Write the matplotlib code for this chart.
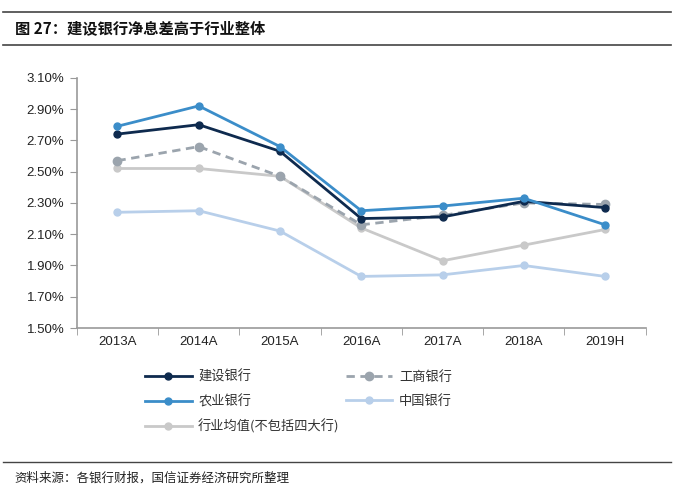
import matplotlib
matplotlib.use("Agg")
import matplotlib.pyplot as plt
from matplotlib.lines import Line2D
from matplotlib.ticker import FuncFormatter, FixedLocator

plt.rcParams['font.family'] = ['Noto Sans CJK SC', 'DejaVu Sans']

years = ["2013A", "2014A", "2015A", "2016A", "2017A", "2018A", "2019H"]
ccb = [2.74, 2.80, 2.63, 2.20, 2.21, 2.31, 2.27]
abc = [2.79, 2.92, 2.66, 2.25, 2.28, 2.33, 2.16]
icbc = [2.57, 2.66, 2.47, 2.16, 2.22, 2.30, 2.29]
boc = [2.24, 2.25, 2.12, 1.83, 1.84, 1.90, 1.83]
avg = [2.52, 2.52, 2.47, 2.14, 1.93, 2.03, 2.13]
yticks = [1.5, 1.7, 1.9, 2.1, 2.3, 2.5, 2.7, 2.9, 3.1]

fig = plt.figure(figsize=(6.74, 4.86), dpi=100)
ax = fig.add_axes([0.114, 0.325, 0.844, 0.515])

x = list(range(len(years)))
h_avg, = ax.plot(x, avg, color="#c9c9c9", lw=2, marker="o", ms=5, label="行业均值(不包括四大行)")
h_boc, = ax.plot(x, boc, color="#b8cfea", lw=2, marker="o", ms=5, label="中国银行")
h_icbc, = ax.plot(x, icbc, color="#9ba4ad", lw=2, ls=(0, (3, 2)), marker="o", ms=6, label="工商银行")
h_ccb, = ax.plot(x, ccb, color="#0e2a4e", lw=2, marker="o", ms=5, label="建设银行")
h_abc, = ax.plot(x, abc, color="#3b8dc9", lw=2, marker="o", ms=5, label="农业银行")

ax.set_xlim(-0.5, len(years) - 0.5)
ax.set_ylim(1.5, 3.1)
ax.set_yticks(yticks)
ax.yaxis.set_major_formatter(FuncFormatter(lambda v, p: f"{v:.2f}%"))
ax.set_xticks(x)
ax.set_xticklabels(years)
ax.xaxis.set_minor_locator(FixedLocator([i - 0.5 for i in range(len(years) + 1)]))
ax.tick_params(axis="x", which="major", length=0, pad=6)
ax.tick_params(axis="x", which="minor", length=5, color="#999999", direction="out")
ax.tick_params(axis="y", length=5, color="#999999", direction="out", pad=4)
for lab in ax.get_xticklabels() + ax.get_yticklabels():
    lab.set_family(["Liberation Sans", "DejaVu Sans"])
    lab.set_fontsize(9.5)
    lab.set_color("#222222")
for s in ["top", "right"]:
    ax.spines[s].set_visible(False)
for s in ["left", "bottom"]:
    ax.spines[s].set_color("#999999")
    ax.spines[s].set_linewidth(1.2)

leg = fig.legend(handles=[h_ccb, h_abc, h_avg, h_icbc, h_boc], ncol=2, loc="upper left",
                 bbox_to_anchor=(0.198, 0.262), frameon=False, fontsize=9.5,
                 handlelength=3.5, columnspacing=0.5, labelspacing=0.85, handletextpad=0.5)
for t in leg.get_texts():
    t.set_color("#333333")

# header and footer rules
fig.add_artist(Line2D([0.005, 0.995], [0.975, 0.975], color="#444444", lw=1.2))
fig.add_artist(Line2D([0.005, 0.995], [0.907, 0.907], color="#444444", lw=1.2))
fig.add_artist(Line2D([0.005, 0.995], [0.049, 0.049], color="#444444", lw=1.0))
fig.text(0.022, 0.943, "图 27：建设银行净息差高于行业整体", fontsize=11, fontweight="bold",
         va="center", ha="left", color="#111111")
fig.text(0.022, 0.016, "资料来源：各银行财报，国信证券经济研究所整理", fontsize=9,
         va="center", ha="left", color="#222222")

fig.savefig("out.png", dpi=100)
